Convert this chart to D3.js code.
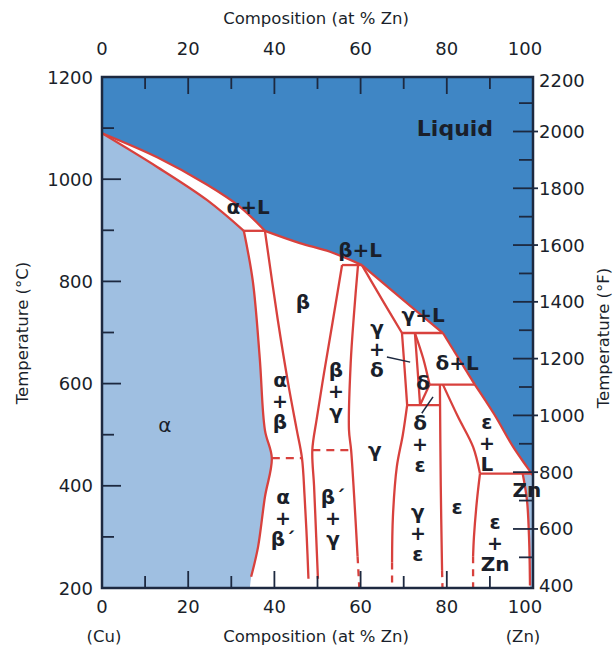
<!DOCTYPE html>
<html><head><meta charset="utf-8">
<script src="https://cdn.jsdelivr.net/npm/d3@7"></script>
<style>body{margin:0;background:#fff}</style>
</head><body>
<svg id="c" width="616" height="653"></svg>
<script>
// ---- tick labels ----
const compTicks = [0, 20, 40, 60, 80, 100];
const compMinor = [10, 20, 30, 40, 50, 60, 70, 80, 90];
const tempCTicks = [200, 400, 600, 800, 1000, 1200];
const tempCMinor = [300, 400, 500, 600, 700, 800, 900, 1000, 1100];
const tempFTicks = [400, 600, 800, 1000, 1200, 1400, 1600, 1800, 2000, 2200];
const tempFMinor = [500, 600, 700, 800, 900, 1000, 1100, 1200, 1300, 1400, 1500, 1600, 1700, 1800, 1900, 2000, 2100];

// ---- phase boundaries [at% Zn, °C] ----
const liquidusA = [[0, 1090], [12.8, 1043], [24.4, 989], [32, 946], [37.8, 899]];
const liquidusB = [[37.8, 899], [45.9, 875], [52.9, 858], [60.3, 832]];
const liquidusC = [[60.3, 832], [69.1, 769], [79.1, 699]];
const liquidusD = [[79.1, 699], [86.5, 598]];
const liquidusE = [[86.5, 598], [91, 540], [95.4, 476], [98.5, 438], [100, 420]];
const alphaSolidus = [[0, 1090], [12.8, 1024], [24.4, 959], [32.9, 899]];
const alphaSolvus = [[32.9, 899], [35, 800], [36.6, 650], [37.8, 509], [39.4, 454], [37.8, 378], [36.2, 280], [34.6, 222]];
const alphaSolvusEnd = [34.3, 200];
const betaLeft = [[37.8, 899], [40.8, 724], [43.2, 600], [45.2, 509], [46.4, 454], [47.0, 380], [47.5, 300], [47.9, 218]];
const betaRight = [[55.7, 832], [53.5, 720], [51.5, 620], [49.8, 530], [48.8, 470], [49.2, 400], [49.7, 300], [50.1, 218]];
const gammaLeft = [[59.4, 832], [58.5, 740], [57.7, 640], [57.3, 510], [57.8, 470], [58.5, 380], [59.3, 262]];
const gammaLeftEnd = [[59.3, 262], [59.7, 200]];
const gammaSolidus = [[60.3, 832], [62.3, 803], [65.5, 757], [69.6, 699]];
const gammaRightUpper = [[69.6, 699], [70.2, 630], [70.8, 558]];
const gammaRightLower = [[70.8, 558], [69.8, 500], [68.4, 437], [67.5, 340], [67.3, 250]];
const gammaRightEnd = [[67.3, 250], [67.3, 200]];
const deltaLeft = [[72.6, 699], [73.2, 630], [73.8, 558]];
const deltaSolidus = [[72.6, 699], [74.5, 650], [76.0, 598]];
const deltaRight = [[76.0, 598], [73.8, 558]];
const epsLeft = [[78.4, 598], [78.6, 400], [78.9, 235]];
const epsLeftEnd = [[78.9, 235], [79.0, 200]];
const epsSolidus = [[79.1, 598], [82.6, 535], [86.1, 476], [87.7, 424]];
const epsRight = [[87.7, 424], [87.0, 372], [86.3, 300], [86.1, 262]];
const epsRightEnd = [[86.1, 262], [86.1, 200]];
const znSolvus = [[97.6, 424], [98.6, 372], [99.1, 294], [99.3, 205]];
const tieLines = [
  [[32.9, 899], [37.8, 899]],
  [[55.7, 832], [60.3, 832]],
  [[69.6, 699], [79.1, 699]],
  [[76.0, 598], [86.5, 598]],
  [[70.8, 558], [78.4, 558]],
  [[87.7, 424], [99.7, 424]]
];
const orderLines = [
  [[39.4, 454], [46.4, 454]],
  [[48.8, 470], [57.8, 470]]
];

// ---- labels (first line position) ----
const regionLabels = [
  {t: ["Liquid"], x: 81.9, T: 1100, big: true},
  {t: ["α+L"], x: 33.9, T: 946},
  {t: ["β+L"], x: 59.9, T: 861},
  {t: ["γ+L"], x: 74.5, T: 734},
  {t: ["δ+L"], x: 82.4, T: 640},
  {t: ["β"], x: 46.6, T: 760},
  {t: ["α"], x: 14.6, T: 519, light: true},
  {t: ["α", "+", "β"], x: 41.3, T: 607},
  {t: ["β", "+", "γ"], x: 54.3, T: 627},
  {t: ["γ", "+", "δ"], x: 63.8, T: 709},
  {t: ["δ"], x: 74.5, T: 601},
  {t: ["γ"], x: 63.3, T: 470},
  {t: ["δ", "+", "ε"], x: 73.8, T: 523},
  {t: ["ε", "+", "L"], x: 89.3, T: 525},
  {t: ["α", "+", "β´"], x: 42.0, T: 378},
  {t: ["β´", "+", "γ"], x: 53.6, T: 378},
  {t: ["γ", "+", "ε"], x: 73.3, T: 349},
  {t: ["ε"], x: 82.4, T: 359},
  {t: ["ε", "+", "Zn"], x: 91.2, T: 329},
  {t: ["Zn"], x: 98.6, T: 392}
];
const leaders = [
  [[66.1, 652], [71.5, 642]],
  [[74.2, 542], [76.8, 574]]
];

// ---- drawing ----
const L = 102, R = 533, Tp = 77, B = 588;
const x = d3.scaleLinear().domain([0, 100]).range([L, R]);
const y = d3.scaleLinear().domain([200, 1200]).range([B, Tp]);
const yF = d3.scaleLinear().domain([392, 2192]).range([B, Tp]);

const svg = d3.select("#c");
const RED = "#d8413d", NAVY = "#1d2940", DARK = "#3f86c5", LIGHT = "#9fbfe1";
const line = d3.line().x(d => x(d[0])).y(d => y(d[1])).curve(d3.curveCatmullRom.alpha(0.5));
const lin = d3.line().x(d => x(d[0])).y(d => y(d[1]));

const defs = svg.append("defs");
defs.append("clipPath").attr("id", "pc").append("rect").attr("x", L).attr("y", Tp).attr("width", R - L).attr("height", B - Tp);
const g = svg.append("g").attr("clip-path", "url(#pc)");

g.append("rect").attr("x", L).attr("y", Tp).attr("width", R - L).attr("height", B - Tp).attr("fill", DARK);
const liqPath = [liquidusA, liquidusB, liquidusC, liquidusD, liquidusE]
  .map((s, i) => i === 0 ? line(s) : line(s).replace(/^M/, "L")).join("");
g.append("path").attr("d", liqPath + `L${x(100)},${y(200)}L${x(0)},${y(200)}Z`).attr("fill", "#fff");
g.append("path").attr("d", line(alphaSolidus) + line(alphaSolvus).replace(/^M/, "L") +
  `L${x(alphaSolvusEnd[0])},${y(alphaSolvusEnd[1])}L${x(0)},${y(200)}Z`).attr("fill", LIGHT);
g.append("path").attr("d", line(znSolvus) + `L${x(99.3)},${y(200)}L${x(100)},${y(200)}L${x(100)},${y(424)}Z`).attr("fill", LIGHT);

const solid = [liquidusA, liquidusB, liquidusC, liquidusD, liquidusE, alphaSolidus, alphaSolvus, betaLeft, betaRight,
  gammaLeft, gammaSolidus, gammaRightUpper, gammaRightLower, deltaLeft, deltaSolidus, deltaRight, epsLeft, epsSolidus, epsRight, znSolvus];
solid.forEach(s => g.append("path").attr("d", line(s)).attr("fill", "none").attr("stroke", RED).attr("stroke-width", 2.3).attr("stroke-linejoin", "round"));
tieLines.forEach(s => g.append("path").attr("d", lin(s)).attr("fill", "none").attr("stroke", RED).attr("stroke-width", 2.3));
orderLines.forEach(s => g.append("path").attr("d", lin(s)).attr("fill", "none").attr("stroke", RED).attr("stroke-width", 2.3).attr("stroke-dasharray", "8,6"));
[gammaLeftEnd, gammaRightEnd, epsLeftEnd, epsRightEnd].forEach(s => g.append("path").attr("d", lin(s)).attr("fill", "none").attr("stroke", RED).attr("stroke-width", 2.3).attr("stroke-dasharray", "7,6"));

// ticks
const tk = svg.append("g").attr("stroke", NAVY).attr("stroke-width", 1.8);
compMinor.forEach(v => {
  const len = v % 20 === 0 ? 17 : 12;
  tk.append("line").attr("x1", x(v)).attr("x2", x(v)).attr("y1", Tp).attr("y2", Tp + len);
  tk.append("line").attr("x1", x(v)).attr("x2", x(v)).attr("y1", B).attr("y2", B - len);
});
tempCMinor.forEach(v => {
  const len = v % 200 === 0 ? 19 : 12;
  tk.append("line").attr("x1", L).attr("x2", L + len).attr("y1", y(v)).attr("y2", y(v));
});
tempFMinor.forEach(v => {
  const big = v % 200 === 0;
  tk.append("line").attr("x1", big ? R - 20 : R - 14).attr("x2", big ? R + 5 : R).attr("y1", yF(v)).attr("y2", yF(v));
});

// leaders
leaders.forEach(s => svg.append("path").attr("d", lin(s)).attr("stroke", NAVY).attr("stroke-width", 1.5));

// frame
svg.append("rect").attr("x", L).attr("y", Tp).attr("width", R - L).attr("height", B - Tp)
  .attr("fill", "none").attr("stroke", NAVY).attr("stroke-width", 2.5);

// tick labels
const FONT = "DejaVu Sans";
const tl = svg.append("g").attr("font-family", FONT).attr("font-size", 18).attr("fill", "#1a1f2b");
compTicks.forEach(v => {
  const dx = v === 100 ? -8 : 0;
  tl.append("text").attr("x", x(v) + dx).attr("y", 48).attr("text-anchor", "middle").attr("dominant-baseline", "central").text(v);
  tl.append("text").attr("x", x(v) + dx).attr("y", 606).attr("text-anchor", "middle").attr("dominant-baseline", "central").text(v);
});
tempCTicks.forEach(v => tl.append("text").attr("x", 93).attr("y", y(v)).attr("text-anchor", "end").attr("dominant-baseline", "central").text(v));
tempFTicks.forEach(v => tl.append("text").attr("x", 539).attr("y", Math.max(yF(v), 80)).attr("text-anchor", "start").attr("dominant-baseline", "central").text(v));

// axis titles
const tt = svg.append("g").attr("font-family", FONT).attr("font-size", 16.5).attr("fill", "#1a1f2b");
tt.append("text").attr("x", 316).attr("y", 18).attr("text-anchor", "middle").attr("dominant-baseline", "central").text("Composition (at % Zn)");
tt.append("text").attr("x", 316).attr("y", 636).attr("text-anchor", "middle").attr("dominant-baseline", "central").text("Composition (at % Zn)");
tt.append("text").attr("x", 104).attr("y", 636).attr("text-anchor", "middle").attr("dominant-baseline", "central").text("(Cu)");
tt.append("text").attr("x", 523).attr("y", 636).attr("text-anchor", "middle").attr("dominant-baseline", "central").text("(Zn)");
tt.append("text").attr("transform", "translate(22,333) rotate(-90)").attr("text-anchor", "middle").attr("dominant-baseline", "central").text("Temperature (°C)");
tt.append("text").attr("transform", "translate(603,338) rotate(-90)").attr("text-anchor", "middle").attr("dominant-baseline", "central").text("Temperature (°F)");

// region labels: first line at (x, T), following lines stacked below
const lg = svg.append("g").attr("font-family", FONT).attr("fill", "#1a1f2b").attr("text-anchor", "middle");
regionLabels.forEach(d => {
  const step = 21;
  d.t.forEach((s, i) => {
    lg.append("text").attr("x", x(d.x)).attr("y", y(d.T) + i * step)
      .attr("dominant-baseline", "central")
      .attr("font-size", d.big ? 22 : (s === "+" ? 19 : 20))
      .attr("font-weight", d.light ? "normal" : "bold")
      .text(s);
  });
});
</script>
</body></html>
